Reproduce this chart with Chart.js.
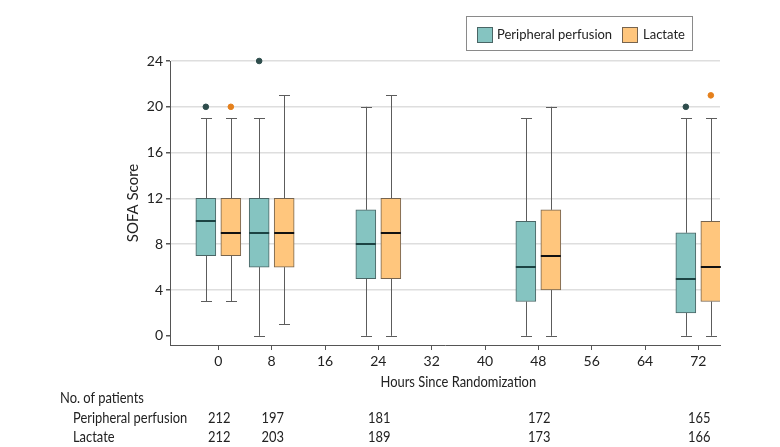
<!DOCTYPE html>
<html>
<head>
<meta charset="utf-8">
<script src="https://cdn.jsdelivr.net/npm/chart.js@4.4.1/dist/chart.umd.min.js"></script>
<style>
  body { margin: 0; background: #fff; }
  #wrap { width: 780px; height: 447px; }
</style>
</head>
<body>
<div id="wrap"><canvas id="chartSofa" width="780" height="447"></canvas></div>
<script>
var hours = [0, 8, 24, 48, 72];
var xTicks = [0, 8, 16, 24, 32, 40, 48, 56, 64, 72];
var yTicks = [0, 4, 8, 12, 16, 20, 24];

var perfusionMin = [3, 0, 0, 0, 0];
var perfusionQ1 = [7, 6, 5, 3, 2];
var perfusionMedian = [10, 9, 8, 6, 5];
var perfusionQ3 = [12, 12, 11, 10, 9];
var perfusionMax = [19, 19, 20, 19, 19];
var perfusionOutliers = [[20], [24], [], [], [20]];

var lactateMin = [3, 1, 0, 0, 0];
var lactateQ1 = [7, 6, 5, 4, 3];
var lactateMedian = [9, 9, 9, 7, 6];
var lactateQ3 = [12, 12, 12, 11, 10];
var lactateMax = [19, 21, 21, 20, 19];
var lactateOutliers = [[20], [], [], [], [21]];

var perfusionPatients = [212, 197, 181, 172, 165];
var lactatePatients = [212, 203, 189, 173, 166];

var seriesNames = ["Peripheral perfusion", "Lactate"];

// layout / style
var shift = 1.875; // hours each box sits left/right of the tick
var tealFill = "#85c4c1", tealLine = "#4a6565", tealDot = "#2e4d4c", tealMedian = "#1c4343";
var orangeFill = "#ffc67d", orangeLine = "#76644f", orangeDot = "#e5801c", orangeMedian = "#111";
var font = "Lato, 'Open Sans', sans-serif";
var squeeze = 0.86; // the source uses a condensed face for the axis/table text

function boxData(q1, q3, dx) {
    var out = [];
    for (var i = 0; i < hours.length; i++) {
        out.push({ x: hours[i] + dx, y: [q1[i], q3[i]] });
    }
    return out;
}

function outlierData(list, dx) {
    var out = [];
    for (var i = 0; i < hours.length; i++) {
        for (var j = 0; j < list[i].length; j++) {
            out.push({ x: hours[i] + dx, y: list[i][j] });
        }
    }
    return out;
}

function narrowText(ctx, text, x, y, align) {
    ctx.save();
    ctx.translate(x, y);
    ctx.scale(squeeze, 1);
    ctx.textAlign = align;
    ctx.fillText(text, 0, 0);
    ctx.restore();
}

var boxes = [
    { dx: -shift, min: perfusionMin, med: perfusionMedian, max: perfusionMax, q1: perfusionQ1, q3: perfusionQ3, medColor: tealMedian },
    { dx: shift, min: lactateMin, med: lactateMedian, max: lactateMax, q1: lactateQ1, q3: lactateQ3, medColor: orangeMedian }
];

var whiskerPlugin = {
    id: "whiskers",
    beforeDatasetsDraw: function (chart) {
        var ctx = chart.ctx, xs = chart.scales.x, ys = chart.scales.y;
        ctx.save();
        ctx.strokeStyle = "#5c5c5c";
        ctx.lineWidth = 1;
        boxes.forEach(function (b) {
            for (var i = 0; i < hours.length; i++) {
                var cx = Math.round(xs.getPixelForValue(hours[i] + b.dx)) + 0.5;
                var lo = ys.getPixelForValue(b.min[i]), hi = ys.getPixelForValue(b.max[i]);
                var q1 = ys.getPixelForValue(b.q1[i]), q3 = ys.getPixelForValue(b.q3[i]);
                ctx.beginPath();
                ctx.moveTo(cx, lo); ctx.lineTo(cx, q1);
                ctx.moveTo(cx, q3); ctx.lineTo(cx, hi);
                ctx.moveTo(cx - 5.5, Math.round(lo) + 0.5); ctx.lineTo(cx + 5.5, Math.round(lo) + 0.5);
                ctx.moveTo(cx - 5.5, Math.round(hi) + 0.5); ctx.lineTo(cx + 5.5, Math.round(hi) + 0.5);
                ctx.stroke();
            }
        });
        ctx.restore();
    },
    afterDatasetsDraw: function (chart) {
        var ctx = chart.ctx, xs = chart.scales.x, ys = chart.scales.y;
        ctx.save();
        ctx.lineWidth = 2;
        boxes.forEach(function (b) {
            ctx.strokeStyle = b.medColor;
            for (var i = 0; i < hours.length; i++) {
                var cx = xs.getPixelForValue(hours[i] + b.dx);
                var m = Math.round(ys.getPixelForValue(b.med[i]));
                ctx.beginPath();
                ctx.moveTo(cx - 10, m); ctx.lineTo(cx + 10, m);
                ctx.stroke();
            }
        });
        ctx.restore();
    },
    afterDraw: function (chart) {
        var ctx = chart.ctx, xs = chart.scales.x;
        ctx.save();
        ctx.fillStyle = "#222";
        ctx.textBaseline = "middle";
        ctx.font = "15px " + font;

        // x title, centred on the data range
        var mid = (xs.getPixelForValue(hours[0]) + xs.getPixelForValue(hours[hours.length - 1])) / 2;
        narrowText(ctx, "Hours Since Randomization", mid, 382, "center");

        // patients table
        narrowText(ctx, "No. of patients", 60, 398, "left");
        narrowText(ctx, "Peripheral perfusion", 73, 418, "left");
        narrowText(ctx, "Lactate", 73, 437, "left");
        for (var i = 0; i < hours.length; i++) {
            var px = xs.getPixelForValue(hours[i]) + 1;
            narrowText(ctx, String(perfusionPatients[i]), px, 418, "center");
            narrowText(ctx, String(lactatePatients[i]), px, 437, "center");
        }

        // legend
        ctx.strokeStyle = "#8a8a8a";
        ctx.lineWidth = 1;
        ctx.strokeRect(466.5, 16.5, 226, 34);
        ctx.fillStyle = tealFill; ctx.fillRect(477, 27, 15, 15);
        ctx.strokeStyle = tealLine; ctx.strokeRect(477.5, 27.5, 15, 15);
        ctx.fillStyle = orangeFill; ctx.fillRect(622, 27, 15, 15);
        ctx.strokeStyle = orangeLine; ctx.strokeRect(622.5, 27.5, 15, 15);
        ctx.fillStyle = "#222";
        ctx.font = "13px " + font;
        ctx.textAlign = "left";
        ctx.fillText(seriesNames[0], 497, 35);
        ctx.fillText(seriesNames[1], 643, 35);
        ctx.restore();
    }
};

new Chart("chartSofa", {
    type: "bar",
    data: {
        datasets: [
            {
                label: seriesNames[0],
                data: boxData(perfusionQ1, perfusionQ3, -shift),
                backgroundColor: tealFill,
                borderColor: tealLine,
                borderWidth: 1,
                borderSkipped: false,
                barThickness: 20,
                grouped: false
            },
            {
                label: seriesNames[1],
                data: boxData(lactateQ1, lactateQ3, shift),
                backgroundColor: orangeFill,
                borderColor: orangeLine,
                borderWidth: 1,
                borderSkipped: false,
                barThickness: 20,
                grouped: false
            },
            {
                type: "scatter",
                label: seriesNames[0] + " outliers",
                data: outlierData(perfusionOutliers, -shift),
                backgroundColor: tealDot,
                borderColor: tealDot,
                pointRadius: 2.8,
                clip: false
            },
            {
                type: "scatter",
                label: seriesNames[1] + " outliers",
                data: outlierData(lactateOutliers, shift),
                backgroundColor: orangeDot,
                borderColor: orangeDot,
                pointRadius: 2.8,
                clip: false
            }
        ]
    },
    options: {
        responsive: false,
        devicePixelRatio: 1,
        animation: false,
        layout: { padding: { left: 118, right: 60, top: 61, bottom: 0 } },
        plugins: {
            legend: { display: false },
            tooltip: { enabled: false }
        },
        scales: {
            x: {
                type: "linear",
                min: -7.25,
                max: 75.25,
                offset: false,
                afterBuildTicks: function (scale) {
                    scale.ticks = xTicks.map(function (v) { return { value: v }; });
                },
                afterFit: function (scale) { scale.height = 102; },
                grid: { display: true, drawOnChartArea: false, offset: false, tickLength: 5, tickColor: "#555" },
                border: { color: "#555", width: 1 },
                ticks: { color: "#222", padding: 3, maxRotation: 0, font: { family: font, size: 14 } }
            },
            y: {
                min: -0.8,
                max: 24,
                afterBuildTicks: function (scale) {
                    scale.ticks = yTicks.map(function (v) { return { value: v }; });
                },
                afterFit: function (scale) { scale.width = 52; },
                grid: {
                    color: function (c) { return c.tick && c.tick.value === 0 ? "rgba(0,0,0,0)" : "#dedede"; },
                    lineWidth: 1.5,
                    tickLength: 4,
                    tickColor: "#555"
                },
                border: { color: "#555", width: 1 },
                ticks: { color: "#222", padding: 3, font: { family: font, size: 14 } },
                title: {
                    display: true,
                    text: "SOFA Score",
                    color: "#222",
                    padding: { top: 6, bottom: 0 },
                    font: { family: font, size: 15 }
                }
            }
        }
    },
    plugins: [whiskerPlugin]
});
</script>
</body>
</html>
